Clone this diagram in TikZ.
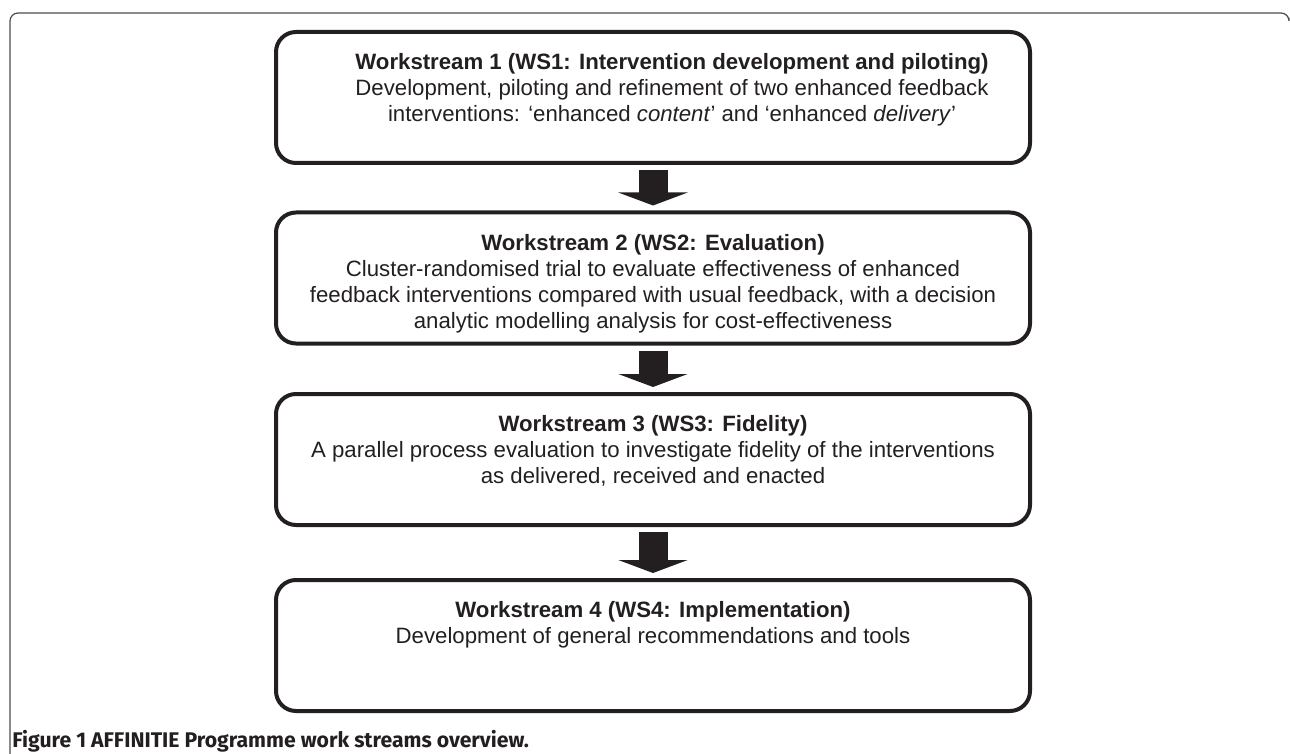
\documentclass[tikz,border=0pt]{standalone}
\usepackage{fontspec}
\setmainfont{Liberation Sans}
\newfontfamily\capfont{Fira Sans}
\usetikzlibrary{arrows.meta,positioning}

\definecolor{ink}{HTML}{231F20}

\tikzset{
	wsbox/.style={draw=ink, text=ink, line width=2pt, rounded corners=10pt,
		minimum width=377pt, minimum height=65.5pt, inner sep=0pt},
	wsarrow/.style={draw=ink, line width=14.5pt, -{Triangle[length=6.5pt,width=34.5pt]},
		shorten <=2.5pt, shorten >=2.5pt},
}
% text sits at the top of each box, optional shift to the right
\newcommand{\wstext}[2][0pt]{\parbox[c][62pt][t]{370pt}{\centering\leftskip=#1 plus 1fil\relax
	\fontsize{11.1}{13}\selectfont\vspace{9pt}#2}}

\begin{document}
\begin{tikzpicture}[x=0.5pt, y=-0.5pt]
	\useasboundingbox (0,0) rectangle (1290,754);

	% outer frame
	\draw[line width=0.6pt, draw=ink!80, rounded corners=4pt] (10,754) -- (10,13) -- (1289,13) -- (1289,18);

	\node[wsbox] (ws1) at (653,97.5) {\wstext[19pt]{\textbf{Workstream 1 (WS1: Intervention development and piloting)}\\
		Development, piloting and refinement of two enhanced feedback\\
		interventions: `enhanced \textit{content}' and `enhanced \textit{delivery}'}};
	\node[wsbox] (ws2) at (653,278) {\wstext{\textbf{Workstream 2 (WS2: Evaluation)}\\
		Cluster-randomised trial to evaluate effectiveness of enhanced\\
		feedback interventions compared with usual feedback, with a decision\\
		analytic modelling analysis for cost-effectiveness}};
	\node[wsbox] (ws3) at (653,459.5) {\wstext{\textbf{Workstream 3 (WS3: Fidelity)}\\
		A parallel process evaluation to investigate fidelity of the interventions\\
		as delivered, received and enacted}};
	\node[wsbox] (ws4) at (653,645.5) {\wstext{\textbf{Workstream 4 (WS4: Implementation)}\\
		Development of general recommendations and tools}};

	\draw[wsarrow] (ws1) -- (ws2);
	\draw[wsarrow] (ws2) -- (ws3);
	\draw[wsarrow] (ws3) -- (ws4);

	\node[anchor=base west, text=ink, inner sep=0pt, font=\capfont\bfseries\fontsize{10.6}{12}\selectfont] (caption) at (12,747)
		{Figure 1 AFFINITIE Programme work streams overview.};
\end{tikzpicture}
\end{document}
